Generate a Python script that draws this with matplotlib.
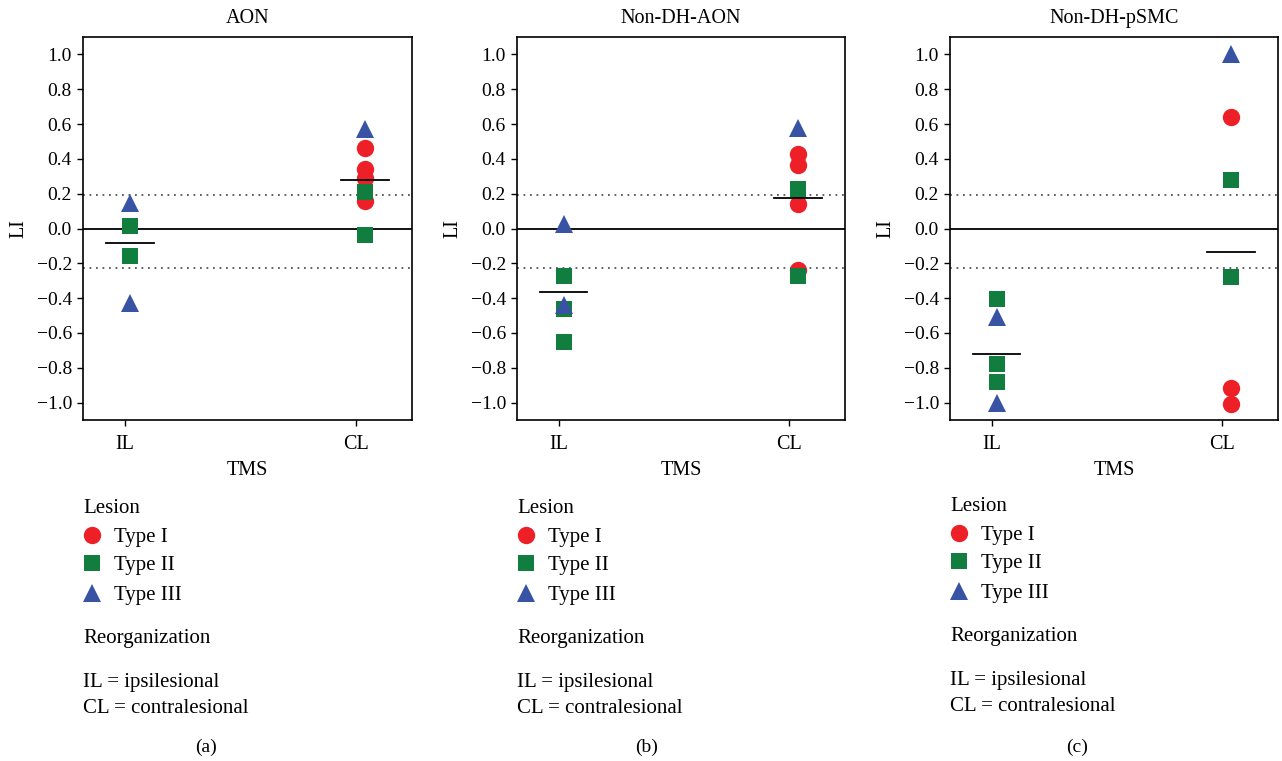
import matplotlib
matplotlib.use("Agg")
import matplotlib.pyplot as plt
from matplotlib.lines import Line2D

plt.rcParams['font.family'] = ['Liberation Serif', 'DejaVu Serif']

W, H = 1282, 761

# ---------------- data ----------------
panel_titles = ["AON", "Non-DH-AON", "Non-DH-pSMC"]
panel_tags = ["(a)", "(b)", "(c)"]
categories = ["IL", "CL"]
lesion_types = ["Type I", "Type II", "Type III"]

# values per panel, per category, per lesion type
aon_IL_t1 = []
aon_IL_t2 = [0.015, -0.16]
aon_IL_t3 = [0.145, -0.43]
aon_CL_t1 = [0.46, 0.34, 0.29, 0.16]
aon_CL_t2 = [0.21, -0.04]
aon_CL_t3 = [0.57]

ndaon_IL_t1 = []
ndaon_IL_t2 = [-0.27, -0.46, -0.65]
ndaon_IL_t3 = [0.025, -0.44]
ndaon_CL_t1 = [0.43, 0.365, 0.14, -0.24]
ndaon_CL_t2 = [0.225, -0.275]
ndaon_CL_t3 = [0.58]

ndpsmc_IL_t1 = []
ndpsmc_IL_t2 = [-0.405, -0.78, -0.88]
ndpsmc_IL_t3 = [-0.51, -1.0]
ndpsmc_CL_t1 = [0.64, -0.915, -1.01]
ndpsmc_CL_t2 = [0.28, -0.28]
ndpsmc_CL_t3 = [1.0]

# group mean lines (IL, CL)
aon_means = [-0.085, 0.277]
ndaon_means = [-0.365, 0.173]
ndpsmc_means = [-0.72, -0.135]

upper_threshold = 0.195
lower_threshold = -0.225

panels = [
    ([[aon_IL_t1, aon_IL_t2, aon_IL_t3], [aon_CL_t1, aon_CL_t2, aon_CL_t3]], aon_means),
    ([[ndaon_IL_t1, ndaon_IL_t2, ndaon_IL_t3], [ndaon_CL_t1, ndaon_CL_t2, ndaon_CL_t3]], ndaon_means),
    ([[ndpsmc_IL_t1, ndpsmc_IL_t2, ndpsmc_IL_t3], [ndpsmc_CL_t1, ndpsmc_CL_t2, ndpsmc_CL_t3]], ndpsmc_means),
]

yticks = [-1.0, -0.8, -0.6, -0.4, -0.2, 0.0, 0.2, 0.4, 0.6, 0.8, 1.0]

# ---------------- style ----------------
colors = ["#EE2027", "#117E40", "#3953A4"]
markers = ["o", "s", "^"]
msizes = [12.5, 11.5, 13.5]
fs = 14
fs_title = 14.5
fs_leg = 15

cat_pos = [1.0, 2.0]
mark_off = [0.02, 0.038]
mean_half = 0.104

ax_left_px = [83, 517, 950]
ax_right_px = [412, 845, 1278]
ax_top_px, ax_bot_px = 37, 420
legend_top = [513, 513, 511]
tag_x = [206, 647, 1077]

fig = plt.figure(figsize=(W / 100, H / 100), dpi=100)


def fx(x):
    return x / W


def fy(y):
    return 1 - y / H


for i, ((groups, means), title) in enumerate(zip(panels, panel_titles)):
    l, r = ax_left_px[i], ax_right_px[i]
    ax = fig.add_axes([fx(l), fy(ax_bot_px), (r - l) / W, (ax_bot_px - ax_top_px) / H])
    ax.set_xlim(0.818, 2.242)
    ax.set_ylim(-1.1, 1.1)

    ax.axhline(0, color="black", lw=1.3, zorder=2)
    ax.axhline(upper_threshold, color="#555555", lw=1.3, ls=(0, (1, 2.6)), zorder=1)
    ax.axhline(lower_threshold, color="#555555", lw=1.3, ls=(0, (1, 2.6)), zorder=1)

    for c, (pos, off) in enumerate(zip(cat_pos, mark_off)):
        x = pos + off
        for t in range(3):
            vals = groups[c][t]
            if vals:
                ax.plot([x] * len(vals), vals, ls="none", marker=markers[t],
                        color=colors[t], markersize=msizes[t], markeredgewidth=0,
                        zorder=3 + t)
        ax.plot([x - mean_half, x + mean_half], [means[c], means[c]],
                color="black", lw=1.3, zorder=7)

    ax.set_xticks(cat_pos)
    ax.set_xticklabels(categories)
    ax.set_yticks(yticks)
    ax.set_yticklabels([f"{v:.1f}".replace("-", "\u2212") for v in yticks])
    ax.tick_params(axis="both", direction="out", length=4, width=1.0,
                   labelsize=fs, colors="black")
    ax.tick_params(axis="x", pad=7, labelsize=fs_title)
    ax.tick_params(axis="y", pad=4)
    for s in ax.spines.values():
        s.set_linewidth(1.2)
        s.set_color("black")
    ax.set_title(title, fontsize=fs_title, pad=10)
    ax.set_xlabel("TMS", fontsize=fs_title, labelpad=5)
    ax.set_ylabel("LI", fontsize=fs_title, labelpad=6)

    # legend block
    lx = l
    ty = legend_top[i]
    fig.text(fx(lx), fy(ty), "Lesion", fontsize=fs_leg, va="baseline", ha="left")
    row_y = [ty + 29, ty + 57, ty + 87]
    for t in range(3):
        fig.add_artist(Line2D([fx(lx + 9)], [fy(row_y[t] - 7)], marker=markers[t],
                              color=colors[t], markersize=msizes[t],
                              markeredgewidth=0, ls="none",
                              transform=fig.transFigure))
        fig.text(fx(lx + 31), fy(row_y[t]), lesion_types[t], fontsize=fs_leg,
                 va="baseline", ha="left")
    fig.text(fx(lx), fy(ty + 130), "Reorganization", fontsize=fs_leg, va="baseline", ha="left")
    fig.text(fx(lx), fy(ty + 174), "IL = ipsilesional", fontsize=fs_leg, va="baseline", ha="left")
    fig.text(fx(lx), fy(ty + 200), "CL = contralesional", fontsize=fs_leg, va="baseline", ha="left")
    fig.text(fx(tag_x[i]), fy(752), panel_tags[i], fontsize=fs, va="baseline", ha="center")

fig.savefig("out.png", dpi=100)
